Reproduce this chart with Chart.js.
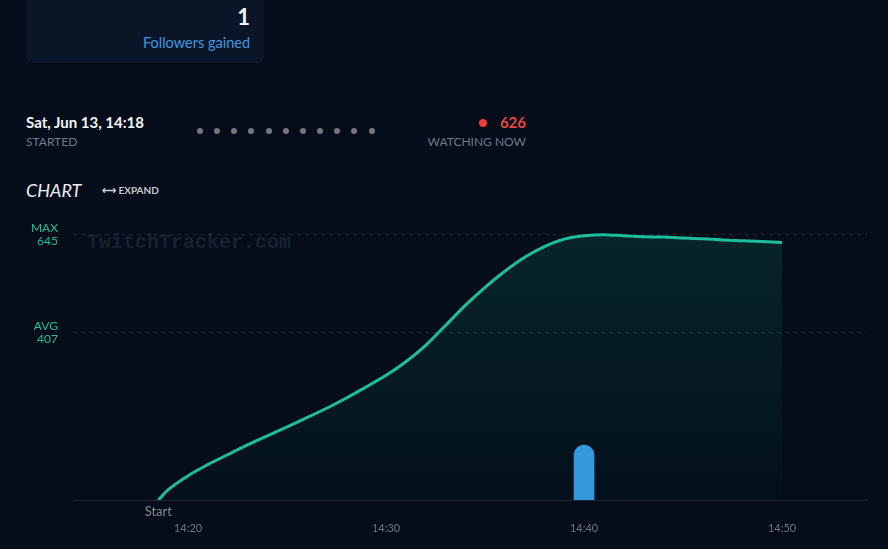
<!DOCTYPE html>
<html>
<head>
<meta charset="utf-8">
<script src="https://cdn.jsdelivr.net/npm/chart.js@4.4.1/dist/chart.umd.min.js"></script>
<style>
  html, body { margin:0; padding:0; background:#040d19; width:888px; height:549px; overflow:hidden; font-family: Lato, "Noto Sans", sans-serif; }
  .abs { position:absolute; white-space:nowrap; }
  #card { left:26px; top:-10px; width:238px; height:73px; border-radius:6px; background:#0a1628; }
  #wrap { position:absolute; left:0; top:200px; width:888px; height:349px; }
  #wm { font-family:"Liberation Mono", "DejaVu Sans Mono", monospace; font-weight:bold; font-size:20px; color:#172230; left:87px; top:231px; line-height:24px; }
</style>
</head>
<body>
<div id="card" class="abs"></div>
<div class="abs" style="right:638px; top:4px; font-size:22px; line-height:26px; font-weight:bold; color:#f2f4f7;">1</div>
<div class="abs" style="right:638px; top:33px; font-size:14.5px; line-height:20px; color:#3a9ae0;">Followers gained</div>

<div class="abs" style="left:26px; top:112px; font-size:15px; line-height:20px; font-weight:bold; color:#f4f6f8;">Sat, Jun 13, 14:18</div>
<div class="abs" style="left:26px; top:134px; font-size:12px; line-height:15px; color:#6f7b88;">STARTED</div>
<div id="dots"></div>
<div class="abs" style="left:479px; top:119px; width:8px; height:8px; border-radius:50%; background:#f03a3a;"></div>
<div class="abs" style="right:362px; top:112px; font-size:15px; line-height:20px; font-weight:bold; color:#e8473f;">626</div>
<div class="abs" style="right:362px; top:134px; font-size:12px; line-height:15px; color:#6f7b88;">WATCHING NOW</div>

<div class="abs" style="left:26px; top:179px; font-size:18px; line-height:22px; font-style:italic; color:#eceef1;">CHART</div>
<div class="abs" style="left:102px; top:184px; font-size:10px; line-height:13px; font-weight:bold; color:#c4cad0;">&#10231; EXPAND</div>

<div id="wm" class="abs">TwitchTracker.com</div>
<div id="wrap"><canvas id="c" width="888" height="349"></canvas></div>

<script>
// ---- data ----
const minutes = [18.5, 19, 20, 21, 22, 23, 24, 25, 26, 27, 28, 29, 30, 31, 32, 33, 34, 35, 36, 37, 38, 39, 40, 41, 42, 43, 44, 45, 46, 47, 48, 49, 50]; // minutes after 14:00
const viewers = [0, 25, 59, 86, 110, 134, 156, 178, 200, 223, 248, 275, 303, 336, 376, 424, 473, 517, 556, 590, 616, 634, 642, 645, 642, 640, 639, 637, 635, 632, 630, 628, 626];
const followerMinutes = [40];
const followers = [1];
const xTicks = [20, 30, 40, 50];
const refLines = [407, 645];
const refNames = ['AVG', 'MAX'];
const streamStart = 18.5;
const startLabel = 'Start';
const dotsCount = 11;

// header dots
(function(){
  const d = document.getElementById('dots');
  for (let i = 0; i < dotsCount; i++) {
    const e = document.createElement('div');
    e.className = 'abs';
    e.style.cssText = 'left:' + (197 + i * 17.15) + 'px; top:127.5px; width:6px; height:6px; border-radius:50%; background:#74777b;';
    d.appendChild(e);
  }
})();

const lineData = minutes.map((m, i) => ({ x: m, y: viewers[i] }));
const barData = followerMinutes.map((m, i) => ({ x: m, y: followers[i] }));

const startPlugin = {
  id: 'startLabel',
  afterDraw(chart) {
    const ctx = chart.ctx;
    const x = chart.scales.x.getPixelForValue(streamStart);
    ctx.save();
    ctx.font = '13px Lato';
    ctx.fillStyle = '#868b91';
    ctx.textAlign = 'center';
    ctx.textBaseline = 'middle';
    ctx.fillText(startLabel, x, chart.chartArea.bottom + 12);
    ctx.restore();
  }
};

const ctx = document.getElementById('c').getContext('2d');
new Chart(ctx, {
  type: 'line',
  data: {
    datasets: [
      {
        type: 'bar',
        data: barData,
        yAxisID: 'y2',
        backgroundColor: '#3498db',
        barThickness: 20,
        borderRadius: 10,
        order: 1
      },
      {
        type: 'line',
        data: lineData,
        yAxisID: 'y',
        borderColor: '#1dbf9b',
        borderWidth: 3,
        pointRadius: 0,
        cubicInterpolationMode: 'monotone',
        fill: 'origin',
        backgroundColor: (c) => {
          const a = c.chart.chartArea;
          if (!a) return 'rgba(26,188,156,0.1)';
          const g = c.chart.ctx.createLinearGradient(0, a.top, 0, a.bottom);
          g.addColorStop(0, 'rgba(26,188,156,0.15)');
          g.addColorStop(1, 'rgba(26,188,156,0.02)');
          return g;
        },
        order: 2
      }
    ]
  },
  options: {
    responsive: false,
    devicePixelRatio: 1,
    animation: false,
    layout: { padding: { top: 12, right: 21, left: 0, bottom: 0 } },
    plugins: { legend: { display: false }, tooltip: { enabled: false } },
    scales: {
      x: {
        type: 'linear',
        offset: false,
        min: 14.19,
        max: 54.29,
        afterBuildTicks: (s) => { s.ticks = xTicks.map(v => ({ value: v })); },
        afterFit: (s) => { s.height = 49; s.paddingLeft = 0; s.paddingRight = 0; },
        grid: { display: false, drawTicks: false, offset: false },
        border: { display: true, color: '#1c2735', width: 1 },
        ticks: {
          padding: 22,
          color: '#6f757c',
          font: { family: 'Lato', size: 11 },
          autoSkip: false,
          maxRotation: 0,
          callback: (v) => '14:' + String(v).padStart(2, '0')
        }
      },
      y: {
        min: 0,
        max: 700,
        afterBuildTicks: (s) => { s.ticks = refLines.map(v => ({ value: v })); },
        afterFit: (s) => { s.width = 73; s.paddingTop = 0; s.paddingBottom = 0; },
        grid: { color: 'rgba(120,135,150,0.22)', drawTicks: false, tickLength: 0 },
        border: { display: false, dash: [4, 4] },
        ticks: {
          padding: 15,
          color: '#1dbf9b',
          font: { family: 'Lato', size: 12, lineHeight: 1.15 },
          callback: (v) => [refNames[refLines.indexOf(v)], String(v)]
        }
      },
      y2: {
        display: false,
        min: 0,
        max: 5.24
      }
    }
  },
  plugins: [startPlugin]
});
</script>
</body>
</html>
